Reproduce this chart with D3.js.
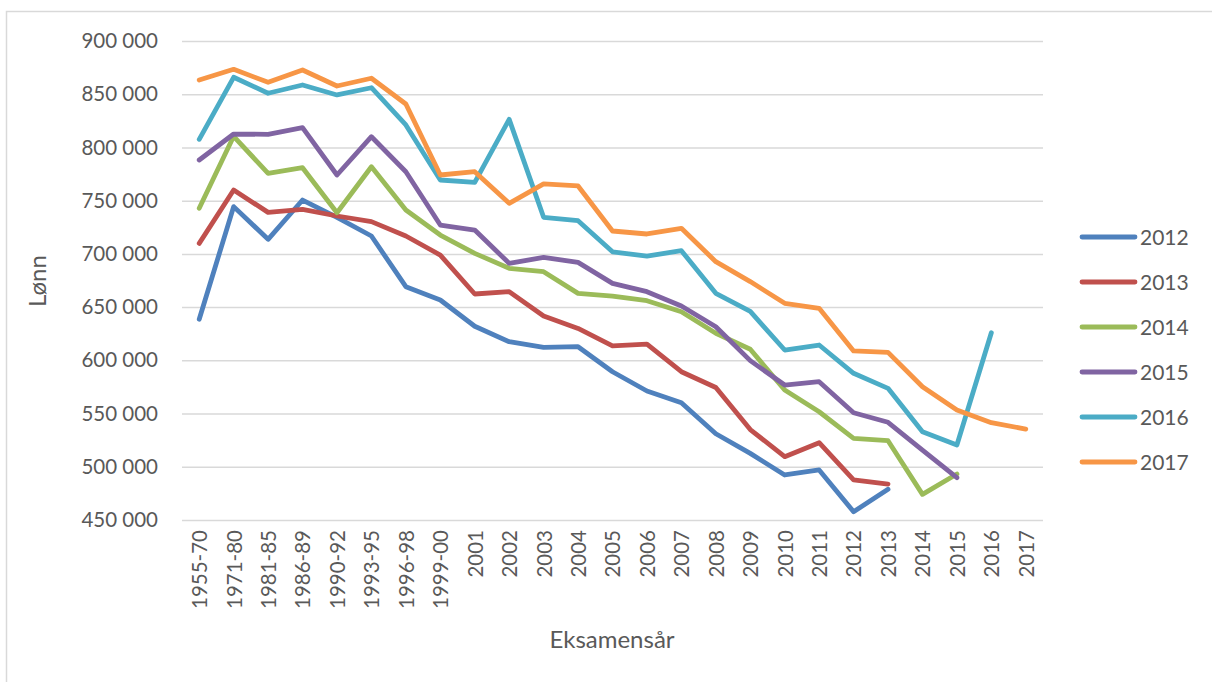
<!DOCTYPE html>
<html>
<head>
<meta charset="utf-8">
<script src="https://cdn.jsdelivr.net/npm/d3@7"></script>
<style>
  html, body { margin: 0; padding: 0; background: #fff; }
  svg { display: block; font-family: Lato, "Open Sans", sans-serif; }
</style>
</head>
<body>
<svg id="chart" width="1212" height="682"></svg>
<script>
const categories = ["1955-70","1971-80","1981-85","1986-89","1990-92","1993-95","1996-98","1999-00",
  "2001","2002","2003","2004","2005","2006","2007","2008","2009","2010","2011","2012","2013","2014","2015","2016","2017"];

const seriesNames = ["2012","2013","2014","2015","2016","2017"];

const s2012 = [638600,744400,713700,750600,734400,716800,669200,656700,632000,617500,612200,612800,589300,571200,560200,531000,512600,492300,497000,457800,478800];
const s2013 = [709900,760000,739000,741800,735600,730300,716800,698900,662300,664500,641600,630000,613500,615300,589300,574500,535000,509500,522600,487600,483800];
const s2014 = [742800,810500,775600,781000,738700,781900,741200,717700,700500,686400,683300,662900,660400,656000,645700,625400,610400,572100,551700,526700,524500,474100,493200];
const s2015 = [788200,812600,812300,818600,774100,810100,777200,727100,722400,691100,696800,692000,672300,664500,651000,631600,599700,576800,579900,550800,541800,515700,489700];
const s2016 = [807600,865900,850900,858700,849300,856100,821100,769400,767200,826400,734400,731200,702000,698000,703000,663000,646000,609700,614400,587800,573700,533000,520500,625900];
const s2017 = [863400,873400,861200,872800,857700,865000,840800,774100,777200,747500,765700,763800,721500,718700,724000,692700,674000,653600,648900,608800,607500,575200,553300,541400,535400];

const seriesValues = [s2012, s2013, s2014, s2015, s2016, s2017];
const colors = ["#4F81BD","#C0504D","#9BBB59","#8064A2","#4BACC6","#F79646"];

const yTicks = [450000,500000,550000,600000,650000,700000,750000,800000,850000,900000];

const svg = d3.select("#chart");
const plotLeft = 182, plotRight = 1043, plotTop = 41, plotBottom = 520;

// outer border
svg.append("rect").attr("x", 6.5).attr("y", 11.5).attr("width", 1220).attr("height", 700)
  .attr("fill", "none").attr("stroke", "#d9d9d9").attr("stroke-width", 1.5);

const x = d3.scalePoint().domain(categories).range([plotLeft, plotRight]).padding(0.5);
const y = d3.scaleLinear().domain([450000, 900000]).range([plotBottom, plotTop]);

const fmt = v => d3.format(",")(v).replace(/,/g, " ");

// grid
const yAxis = d3.axisLeft(y).tickValues(yTicks).tickSize(-(plotRight - plotLeft)).tickFormat(fmt).tickPadding(24);
const gy = svg.append("g").attr("transform", `translate(${plotLeft},0)`).call(yAxis);
gy.select(".domain").remove();
gy.selectAll(".tick line").attr("stroke", "#d9d9d9").attr("stroke-width", 1.5);
gy.selectAll(".tick text").attr("fill", "#595959").attr("font-size", 20.5)
  .attr("font-family", "Lato, sans-serif");

// x axis
const xAxis = d3.axisBottom(x).tickSize(0).tickPadding(0);
const gx = svg.append("g").attr("transform", `translate(0,${plotBottom})`).call(xAxis);
gx.select(".domain").remove();
gx.selectAll(".tick text")
  .attr("fill", "#595959").attr("font-size", 20.5).attr("font-family", "Lato, sans-serif")
  .attr("text-anchor", "end")
  .attr("transform", "rotate(-90)")
  .attr("x", -10).attr("y", 0).attr("dy", "0.36em");

// lines
const line = d3.line().x((d, i) => x(categories[i])).y(d => y(d));
seriesValues.forEach((vals, k) => {
  svg.append("path").datum(vals)
    .attr("d", line)
    .attr("fill", "none")
    .attr("stroke", colors[k])
    .attr("stroke-width", 4.8)
    .attr("stroke-linejoin", "round")
    .attr("stroke-linecap", "round");
});

// axis titles
svg.append("text").attr("x", 612).attr("y", 648).attr("text-anchor", "middle")
  .attr("fill", "#595959").attr("font-size", 24).text("Eksamensår");
svg.append("text").attr("transform", "translate(46,281) rotate(-90)").attr("text-anchor", "middle")
  .attr("fill", "#595959").attr("font-size", 24).text("Lønn");

// legend
const lg = svg.append("g");
seriesNames.forEach((name, k) => {
  const yy = 237 + k * 45;
  lg.append("line").attr("x1", 1082).attr("x2", 1135).attr("y1", yy).attr("y2", yy)
    .attr("stroke", colors[k]).attr("stroke-width", 4.8).attr("stroke-linecap", "round");
  lg.append("text").attr("x", 1140).attr("y", yy).attr("dy", "0.36em")
    .attr("fill", "#595959").attr("font-size", 21).text(name);
});
</script>
</body>
</html>
